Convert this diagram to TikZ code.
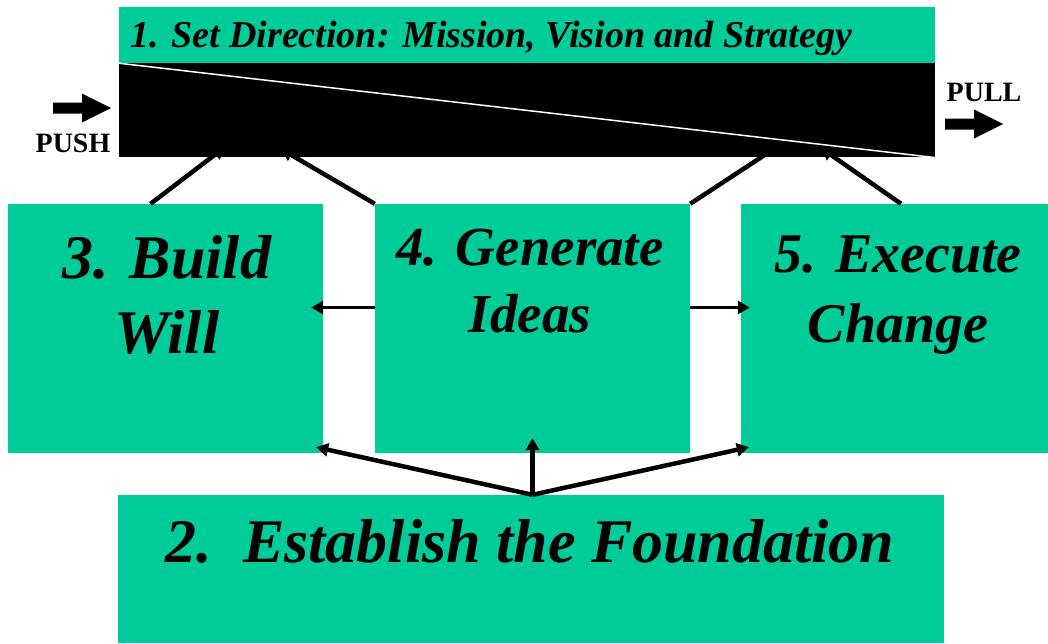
\documentclass[tikz,border=0pt]{standalone}
\usepackage{fontspec}
\setmainfont{Liberation Serif}
\usepackage{tikz}
\usetikzlibrary{positioning, arrows.meta, calc}
\definecolor{boxgreen}{HTML}{00CC99}
\tikzset{
	box/.style={fill=boxgreen, inner sep=0pt, minimum width=315pt, minimum height=249pt},
	big/.style n args={2}{font=\bfseries\itshape\fontsize{#1}{#2}\selectfont, align=center, inner sep=0pt},
	side/.style={font=\bfseries\fontsize{28}{28}\selectfont, inner sep=0pt},
	conn/.style={-{Triangle[length=12pt,width=13pt]}, line width=4.5pt},
}

\begin{document}
\begin{tikzpicture}[x=1pt, y=-1pt]
	\useasboundingbox (0,0) rectangle (1048,643);
	% top bar
	\node[fill=boxgreen, minimum width=816pt, minimum height=56pt, inner sep=0pt] (DIR) at (527,35) {};
	\node[fill=black, minimum width=816pt, minimum height=94pt, inner sep=0pt, below=0pt of DIR] (BAR) {};
	\node[big={38}{44}, anchor=base west] (DIRTXT) at ($(DIR.west)+(11,12)$) {1. Set Direction: Mission, Vision and Strategy};
	\draw[white, line width=1.5pt] (BAR.north west) -- (BAR.south east);
	
	% push / pull
	\node[side, anchor=base] (PUSH) at (73,152) {PUSH};
	\node[side, anchor=base] (PULL) at (984,101) {PULL};
	\fill (53,102.5) -- (82,102.5) -- (82,93.5) -- (111,108) -- (82,122.5) -- (82,113.5) -- (53,113.5) -- cycle;
	\fill (945,118.5) -- (974,118.5) -- (974,109.5) -- (1003,124) -- (974,138.5) -- (974,129.5) -- (945,129.5) -- cycle;
	
	% boxes
	\node[box] (BUILD) at (165.5,328.5) {};
	\node[box] (IDEAS) at (532.5,328.5) {};
	\node[box, minimum width=307pt] (EXEC) at (894.5,328.5) {};
	\node[box, minimum width=826pt, minimum height=148pt] (FOUND) at (531,569) {};
	\node[big={62}{75}, anchor=base] (BUILDTXT) at (167,353) {3. Build\\Will};
	\node[big={55}{67}, anchor=base] (IDEASTXT) at (530,332) {4. Generate\\Ideas};
	\node[big={56}{70}, anchor=base] (EXECTXT) at (898,342) {5. Execute\\Change};
	\node[big={62}{74}, anchor=base] (FOUNDTXT) at (530,562) {2.\ \ Establish the Foundation};
	
	% links to the bar
	\coordinate (b1) at (225,147);
	\coordinate (b2) at (281,149);
	\coordinate (b3) at (786,141);
	\coordinate (b4) at (821,148);
	\draw[conn] ($(BUILD.north)+(-15,0)$) -- (b1);
	\draw[conn] (IDEAS.north west) -- (b2);
	\draw[conn] (IDEAS.north east) -- (b3);
	\draw[conn] ($(EXEC.north)+(6.5,0)$) -- (b4);
	
	% links between boxes
	\coordinate (base) at (IDEAS.south |- FOUND.north);
	\draw[conn, line width=3.5pt] ($(IDEAS.west)+(0,-21)$) -- ($(BUILD.east)+(-12,-21)$);
	\draw[conn, line width=3.5pt] ($(IDEAS.east)+(0,-21)$) -- ($(EXEC.west)+(9,-21)$);
	\draw[conn] (base) -- ($(BUILD.south east)+(-7,-6)$);
	\draw[conn] (base) -- ($(IDEAS.south)+(0,-15)$);
	\draw[conn] (base) -- ($(EXEC.south west)+(8,-6)$);
\end{tikzpicture}
\end{document}
